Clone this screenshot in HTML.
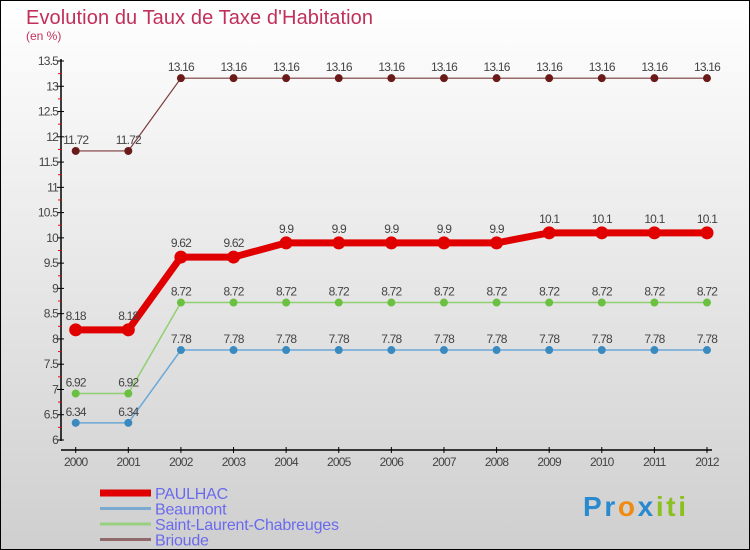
<!DOCTYPE html>
<html><head><meta charset="utf-8"><style>
body{margin:0}
#c{width:750px;height:550px;position:relative;box-sizing:border-box;border:1px solid #000;background:linear-gradient(#fff,#cfcfcf);font-family:"Liberation Sans","DejaVu Sans",sans-serif;overflow:hidden}
</style></head><body>
<div id="c">
<svg width="750" height="550" style="position:absolute;left:-1px;top:-1px" id="svg">
<text x="26" y="24" font-size="20" fill="#c0305a" font-family="Liberation Sans" textLength="347">Evolution du Taux de Taxe d'Habitation</text>
<text x="26" y="40" font-size="12" fill="#c0305a">(en %)</text>
<g id="axes"></g><g id="series"></g><g id="legend"></g>
<text x="583" y="516" font-size="28" font-weight="bold" textLength="103"><tspan fill="#2a8ad0">Pr</tspan><tspan fill="#f08a10">o</tspan><tspan fill="#2a8ad0">x</tspan><tspan fill="#8cc020">iti</tspan></text>
</svg>
</div>
<script>
const years=[2000,2001,2002,2003,2004,2005,2006,2007,2008,2009,2010,2011,2012];
const paulhac=[8.18,8.18,9.62,9.62,9.9,9.9,9.9,9.9,9.9,10.1,10.1,10.1,10.1];
const beaumont=[6.34,6.34,7.78,7.78,7.78,7.78,7.78,7.78,7.78,7.78,7.78,7.78,7.78];
const saintLaurent=[6.92,6.92,8.72,8.72,8.72,8.72,8.72,8.72,8.72,8.72,8.72,8.72,8.72];
const brioude=[11.72,11.72,13.16,13.16,13.16,13.16,13.16,13.16,13.16,13.16,13.16,13.16,13.16];
const yTicks=[6,6.5,7,7.5,8,8.5,9,9.5,10,10.5,11,11.5,12,12.5,13,13.5];
const seriesNames=["PAULHAC","Beaumont","Saint-Laurent-Chabreuges","Brioude"];
const NS="http://www.w3.org/2000/svg";
const xs=i=>75.7+i*(707-75.7)/(years.length-1);
const ys=v=>440-(v-6)*(440-61)/7.5;
function mk(t,a,p){const e=document.createElementNS(NS,t);for(const k in a)e.setAttribute(k,a[k]);p.appendChild(e);return e;}
const ax=document.getElementById('axes');
let yl=mk('line',{x1:61,y1:59,x2:61,y2:441,stroke:'#000','stroke-width':1.5},ax);


yTicks.forEach((v,k)=>{const y=ys(v);
mk('line',{x1:57,y1:y,x2:64,y2:y,stroke:'#000'},ax);
if(k<yTicks.length-1)mk('line',{x1:58,y1:ys(v+0.25),x2:61,y2:ys(v+0.25),stroke:'#f00'},ax);
const t=mk('text',{x:58,y:y+4,'font-size':12,fill:'#444','text-anchor':'end','letter-spacing':'-0.8'},ax);t.textContent=v;

});
let xl=mk('line',{x1:61,y1:450,x2:712,y2:450,stroke:'#000','stroke-width':1.5},ax);


years.forEach((yr,i)=>{const x=xs(i);mk('line',{x1:x,y1:447,x2:x,y2:453,stroke:'#000'},ax);
const t=mk('text',{x:x,y:466,'font-size':12,fill:'#444','text-anchor':'middle','letter-spacing':'-0.8'},ax);t.textContent=yr;

});
const sg=document.getElementById('series');
const defs=[[brioude,'#6b1a1a','#7a3a3a',1.2,4,'brioude'],[beaumont,'#3a8ac0','#6aa8d8',1.5,4,'beaumont'],[saintLaurent,'#6ac040','#90d070',1.5,4,'saint-laurent'],[paulhac,'#e00000','#e00000',7,6.5,'paulhac']];
defs.forEach(([d,c,lc,w,r,n])=>{
const g=mk('g',{},sg);


mk('polyline',{points:d.map((v,i)=>xs(i)+','+ys(v)).join(' '),fill:'none',stroke:lc,'stroke-width':w},g);
d.forEach((v,i)=>{const pt=mk('circle',{cx:xs(i),cy:ys(v),r:r,fill:c},g);


const t=mk('text',{x:xs(i),y:ys(v)-(n=='paulhac'?10:7),'font-size':12,fill:'#444','text-anchor':'middle','letter-spacing':'-0.8'},g);t.textContent=v;

});
});
const lg=document.getElementById('legend');
const lcol=['#e00000','#7aaad0','#98d080','#906a6a'],lw=[7,3,3,3];
seriesNames.forEach((s,i)=>{const y=493+i*15.5;
const g=mk('g',{},lg);


mk('line',{x1:100,y1:y,x2:151,y2:y,stroke:lcol[i],'stroke-width':lw[i]},g);
const t=mk('text',{x:155,y:y+6,'font-size':16,fill:'#6a6aee','letter-spacing':'-0.2'},g);t.textContent=s;});
</script>
</body></html>
